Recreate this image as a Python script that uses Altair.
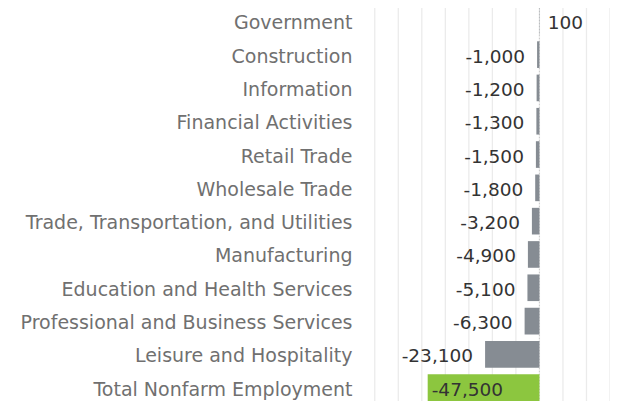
import altair as alt
import pandas as pd

categories = [
    "Government", "Construction", "Information", "Financial Activities",
    "Retail Trade", "Wholesale Trade", "Trade, Transportation, and Utilities",
    "Manufacturing", "Education and Health Services",
    "Professional and Business Services", "Leisure and Hospitality",
    "Total Nonfarm Employment",
]
values = [100, -1000, -1200, -1300, -1500, -1800, -3200, -4900, -5100, -6300, -23100, -47500]
is_total = [False] * 11 + [True]
grid_values = list(range(-70000, 30001, 10000))

df = pd.DataFrame({"cat": categories, "val": values, "total": is_total})
df["label"] = df["val"].map(lambda v: f"{v:,}")
grid_df = pd.DataFrame({"g": grid_values})

FONT = "DejaVu Sans"
FS = 18.5
FW = 400
x_scale = alt.Scale(domain=[-75000, 30000], nice=False, zero=True)
y_scale = alt.Scale(paddingInner=0.2, paddingOuter=0.0)
y_enc = alt.Y("cat:N", sort=categories, title=None, scale=y_scale,
              axis=alt.Axis(domain=False, ticks=False, labelFont=FONT, labelFontSize=19,
                            labelFontWeight=FW, labelColor="#707070", labelPadding=11,
                            labelOffset=2, labelLimit=400, grid=False))

grid = alt.Chart(grid_df).mark_rule(color="#ebebeb", strokeWidth=1.3).encode(
    x=alt.X("g:Q", scale=x_scale, title=None, axis=None)
)

base = alt.Chart(df)

bars = base.mark_bar().encode(
    y=y_enc,
    x=alt.X("val:Q", scale=x_scale, title=None, axis=None),
    x2=alt.datum(0),
    color=alt.Color("total:N", scale=alt.Scale(domain=[False, True], range=["#868c93", "#8cc63f"]), legend=None),
)

zero_rule = alt.Chart(grid_df).transform_filter("datum.g == 0").mark_rule(
    color="#cccccc", strokeDash=[1, 2], strokeWidth=1
).encode(x=alt.X("g:Q", scale=x_scale, axis=None))

def txt(filt, align, dx):
    return base.transform_filter(filt).mark_text(
        align=align, baseline="middle", dx=dx, dy=2, font=FONT, fontSize=FS,
        fontWeight=FW, color="#333333"
    ).encode(y=alt.Y("cat:N", sort=categories), x=alt.X("val:Q", scale=x_scale), text="label:N")

neg = txt("datum.val < 0 && !datum.total", "right", -12)
pos = txt("datum.val >= 0", "left", 8)
tot = txt("datum.total", "left", 4)

chart = alt.layer(grid, zero_rule, bars, neg, pos, tot).properties(
    width=247, height=393,
    autosize=alt.AutoSizeParams(type="none"),
    padding={"left": 355, "top": 0, "right": 0, "bottom": 0},
).configure_view(stroke=None)

chart.save("out.html", embed_options={"renderer": "svg", "actions": False})
